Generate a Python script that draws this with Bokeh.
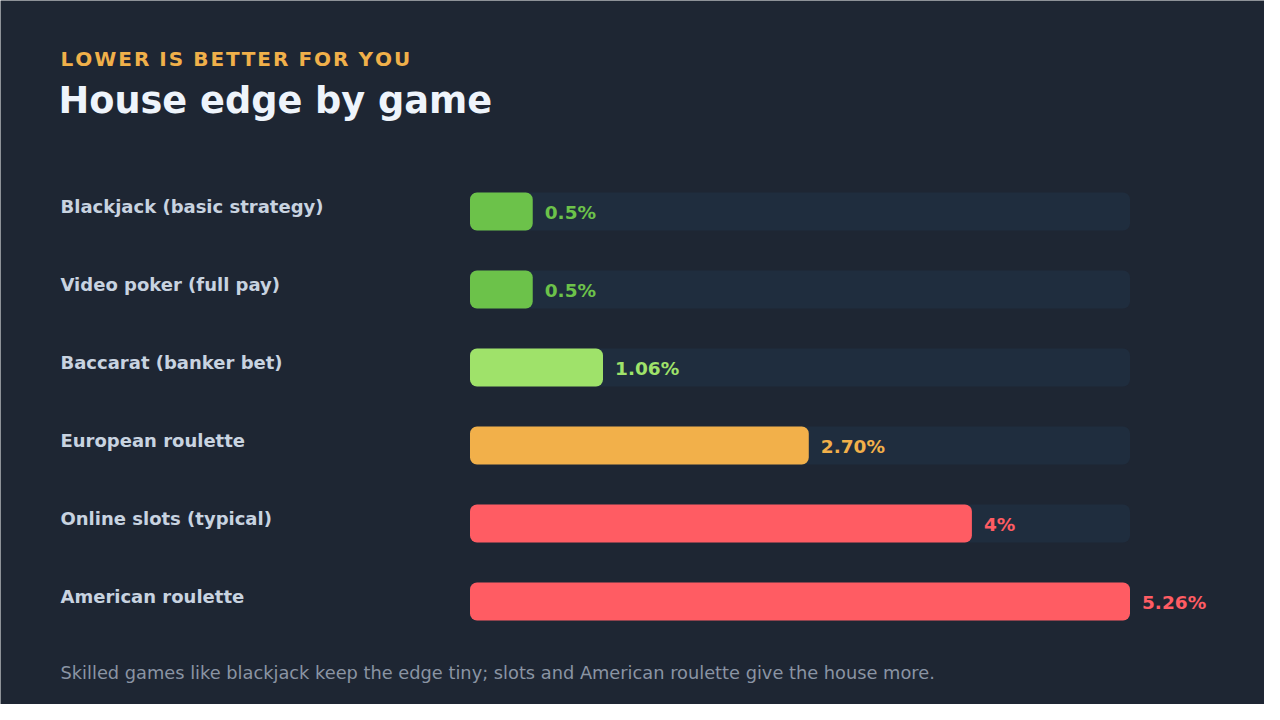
from bokeh.core.properties import value
from bokeh.embed import file_html
from bokeh.models import ColumnDataSource, Label, Range1d
from bokeh.plotting import figure
from bokeh.resources import INLINE

games = [
    "Blackjack (basic strategy)",
    "Video poker (full pay)",
    "Baccarat (banker bet)",
    "European roulette",
    "Online slots (typical)",
    "American roulette",
]
edge = [0.5, 0.5, 1.06, 2.70, 4.0, 5.26]
edge_labels = ["0.5%", "0.5%", "1.06%", "2.70%", "4%", "5.26%"]
colors = ["#6cc24a", "#6cc24a", "#9fe26a", "#f2b04a", "#ff5c63", "#ff5c63"]

BG = "#1e2633"
TRACK = "#1f2d3e"
FONT = "DejaVu Sans"

W, H = 1264, 704
px_x = 660 / max(edge)  # pixels per percent point
px_y = 78  # pixels per row
x0 = 469.5  # where the bars start
y0 = 211  # centre of the first row

rows = list(range(len(games)))
src = ColumnDataSource(dict(
    y=rows, game=games, edge=edge, lab=edge_labels, color=colors,
    track=[max(edge)] * len(games),
))

p = figure(
    width=W, height=H,
    x_range=Range1d(-x0 / px_x, (W - x0) / px_x),
    y_range=Range1d((H - y0) / px_y, -y0 / px_y),
    output_backend="svg", toolbar_location=None, min_border=0,
    background_fill_color=BG, border_fill_color=BG, outline_line_color=None,
)
p.axis.visible = False
p.grid.visible = False

bh = 38 / px_y
p.hbar(y="y", left=0, right="track", height=bh, source=src,
       fill_color=TRACK, line_color=None, border_radius=7)
p.hbar(y="y", left=0, right="edge", height=bh, source=src,
       fill_color="color", line_color=None, border_radius=7)

p.text(x="edge", y="y", text="lab", source=src, x_offset=12, y_offset=1,
       text_color="color", text_font=value(FONT), text_font_style="bold",
       text_font_size="18.5px", text_baseline="middle")

label_x = (60 - x0) / px_x
p.text(x=label_x, y="y", text="game", source=src, y_offset=-5,
       text_color="#c8d3e0", text_font=value(FONT), text_font_style="bold",
       text_font_size="18px", text_baseline="middle")

p.add_layout(Label(x=60, y=H - 58, x_units="screen", y_units="screen",
                   text="L O W E R  I S  B E T T E R  F O R  Y O U".replace("  ", "\u2002").replace(" ", "\u200a"),
                   text_color="#f0b04a", text_font=FONT, text_font_style="bold",
                   text_font_size="20px", text_baseline="middle"))
p.add_layout(Label(x=58, y=H - 100, x_units="screen", y_units="screen",
                   text="House edge by game", text_color="#eef4fb",
                   text_font=FONT, text_font_style="bold",
                   text_font_size="36.7px", text_baseline="middle"))
p.add_layout(Label(x=60, y=H - 672, x_units="screen", y_units="screen",
                   text="Skilled games like blackjack keep the edge tiny; slots and American roulette give the house more.",
                   text_color="#8a94a3", text_font=FONT,
                   text_font_size="17.8px", text_baseline="middle"))

html = file_html(p, INLINE, title="House edge by game")
html = html.replace("<body>", '<body style="background:%s">' % BG, 1)
open("out.html", "w").write(html)
